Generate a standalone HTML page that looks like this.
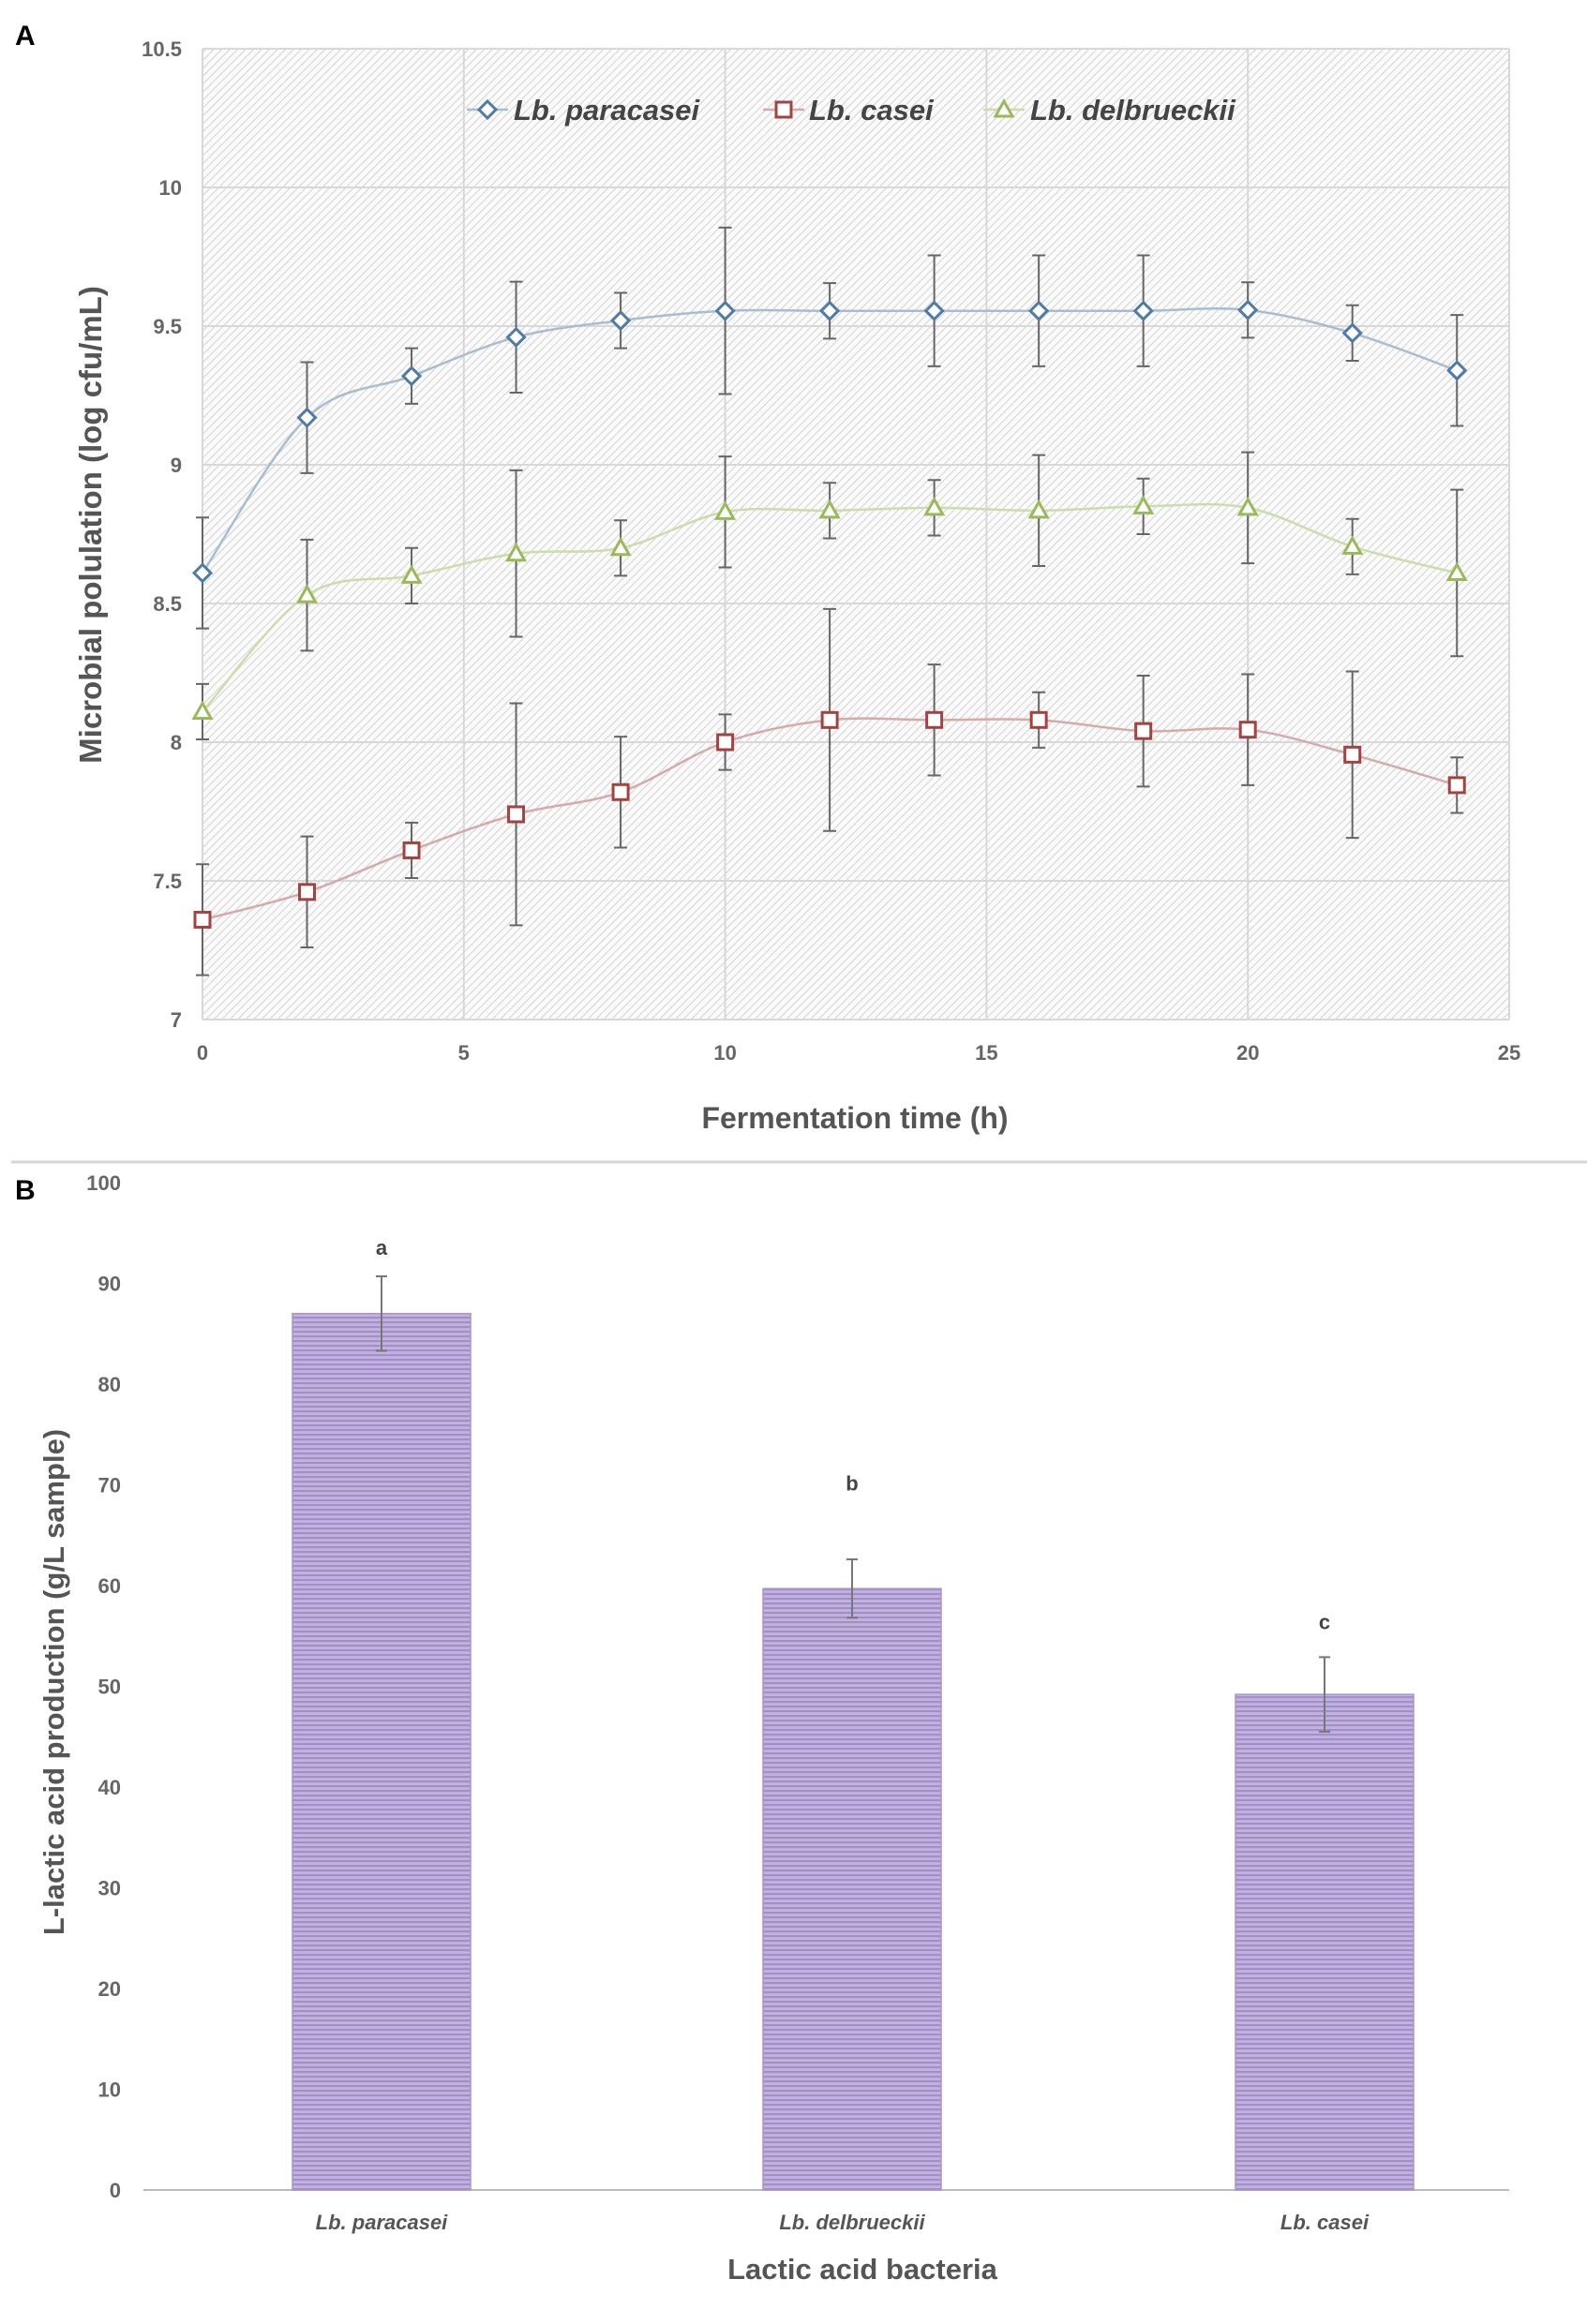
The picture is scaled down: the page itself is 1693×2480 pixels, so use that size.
<!DOCTYPE html>
<html><head><meta charset="utf-8"><style>
html,body{margin:0;padding:0;background:#fff;}
svg{display:block;}
</style></head><body>
<svg id="s" width="1693" height="2480" xmlns="http://www.w3.org/2000/svg" font-family="Liberation Sans, sans-serif">
<defs>
<pattern id="hatch" width="6" height="6" patternUnits="userSpaceOnUse" patternTransform="rotate(45)">
<rect width="6" height="6" fill="#fbfbfb"/>
<line x1="0" y1="0" x2="0" y2="6" stroke="#d2d2d2" stroke-width="2"/>
</pattern>
<pattern id="stripe" width="6" height="5" patternUnits="userSpaceOnUse">
<rect width="6" height="5" fill="#c2b3de"/>
<rect y="0" width="6" height="2.2" fill="#a28fc9"/>
</pattern>
</defs>
<text x="16" y="48" font-size="30" font-weight="bold" fill="#000">A</text>
<rect x="216" y="52" width="1394" height="1036" fill="url(#hatch)"/>
<g id="gridA"></g>
<g id="seriesA"></g>
<g font-size="22" font-weight="bold" fill="#666" id="ticksA"></g>
<text transform="translate(108,560) rotate(-90)" text-anchor="middle" font-size="33" font-weight="bold" fill="#555">Microbial polulation  (log cfu/mL)</text>
<text x="912" y="1204" text-anchor="middle" font-size="32" font-weight="bold" fill="#555">Fermentation time (h)</text>
<g id="legend" font-size="31" font-weight="bold" font-style="italic" fill="#444"></g>
<line x1="12" y1="1240" x2="1693" y2="1240" stroke="#d6d6d6" stroke-width="3"/>
<text x="16" y="1280" font-size="30" font-weight="bold" fill="#000">B</text>
<g id="barB"></g>
<text transform="translate(68,1795) rotate(-90)" text-anchor="middle" font-size="31" font-weight="bold" fill="#555">L-lactic acid production  (g/L sample)</text>
<text x="920" y="2432" text-anchor="middle" font-size="31" font-weight="bold" fill="#555">Lactic acid bacteria</text>
</svg>
<script>
var NS="http://www.w3.org/2000/svg";
function el(p,t,a,txt){var e=document.createElementNS(NS,t);for(var k in a)e.setAttribute(k,a[k]);if(txt!=null)e.textContent=txt;document.getElementById(p).appendChild(e);return e;}
var L=216,R=1610,T=52,B=1088;
function X(h){return L+(R-L)*h/25;}
function Y(v){return B-(v-7)*(B-T)/3.5;}
for(var v=7;v<=10.5001;v+=0.5){el("gridA","line",{x1:L,x2:R,y1:Y(v),y2:Y(v),stroke:"#d8d8d8","stroke-width":2});
 el("ticksA","text",{x:194,y:Y(v)+8,"text-anchor":"end"},(Math.round(v*10)/10).toString());}
for(var h=0;h<=25;h+=5){el("gridA","line",{x1:X(h),x2:X(h),y1:T,y2:B,stroke:"#d8d8d8","stroke-width":2});
 el("ticksA","text",{x:X(h),y:1131,"text-anchor":"middle"},h.toString());}
var hs=[0,2,4,6,8,10,12,14,16,18,20,22,24];
var S=[
{c:"#4f7ba6",lc:"#a9bcd0",m:"d",v:[8.61,9.17,9.32,9.46,9.52,9.555,9.555,9.555,9.555,9.555,9.558,9.475,9.34],e:[0.2,0.2,0.1,0.2,0.1,0.3,0.1,0.2,0.2,0.2,0.1,0.1,0.2]},
{c:"#9aba5a",lc:"#ccdcaa",m:"t",v:[8.11,8.53,8.60,8.68,8.70,8.83,8.835,8.845,8.835,8.85,8.845,8.705,8.61],e:[0.1,0.2,0.1,0.3,0.1,0.2,0.1,0.1,0.2,0.1,0.2,0.1,0.3]},
{c:"#a2433f",lc:"#d6aaa8",m:"s",v:[7.36,7.46,7.61,7.74,7.82,8.0,8.08,8.08,8.08,8.04,8.045,7.955,7.845],e:[0.2,0.2,0.1,0.4,0.2,0.1,0.4,0.2,0.1,0.2,0.2,0.3,0.1]}];
function marker(g,m,x,y,c){
 if(m=="d")el(g,"path",{d:"M"+x+","+(y-9)+"L"+(x+9)+","+y+"L"+x+","+(y+9)+"L"+(x-9)+","+y+"Z",fill:"#fff",stroke:c,"stroke-width":3});
 else if(m=="s")el(g,"rect",{x:x-8,y:y-8,width:16,height:16,fill:"#fff",stroke:c,"stroke-width":3});
 else el(g,"path",{d:"M"+x+","+(y-9)+"L"+(x+9)+","+(y+7)+"L"+(x-9)+","+(y+7)+"Z",fill:"#fff",stroke:c,"stroke-width":3});
}
S.forEach(function(s){
 var P=hs.map(function(h,i){return[X(h),Y(s.v[i])];});
 var d="M"+P[0][0]+","+P[0][1];
 for(var i=0;i<P.length-1;i++){var p0=P[Math.max(i-1,0)],p1=P[i],p2=P[i+1],p3=P[Math.min(i+2,P.length-1)];
  var t=6;d+="C"+(p1[0]+(p2[0]-p0[0])/t)+","+(p1[1]+(p2[1]-p0[1])/t)+" "+(p2[0]-(p3[0]-p1[0])/t)+","+(p2[1]-(p3[1]-p1[1])/t)+" "+p2[0]+","+p2[1];}
 el("seriesA","path",{d:d,fill:"none",stroke:s.lc,"stroke-width":2.5});
 P.forEach(function(p,i){var e=s.e[i]*(B-T)/3.5;
  el("seriesA","path",{d:"M"+p[0]+","+(p[1]-e)+"V"+(p[1]+e)+"M"+(p[0]-7)+","+(p[1]-e)+"h14M"+(p[0]-7)+","+(p[1]+e)+"h14",stroke:"#666","stroke-width":2,fill:"none"});});
 P.forEach(function(p){marker("seriesA",s.m,p[0],p[1],s.c);});
});
var lg=[[520,548,"Lb. paracasei",S[0]],[836,863,"Lb. casei",S[2]],[1071,1099,"Lb. delbrueckii",S[1]]];
lg.forEach(function(q){el("legend","line",{x1:q[0]-22,x2:q[0]+22,y1:117,y2:117,stroke:q[3].lc,"stroke-width":2.5});
 marker("legend",q[3].m,q[0],117,q[3].c);el("legend","text",{x:q[1],y:128},q[2]);});
var B0=2337,u=10.75;
function YB(v){return B0-v*u;}
for(var v=0;v<=100;v+=10){el("barB","text",{x:129,y:YB(v)+8,"text-anchor":"end","font-size":22,"font-weight":"bold",fill:"#666"},v.toString());}
el("barB","line",{x1:153,x2:1610,y1:B0,y2:B0,stroke:"#bbb","stroke-width":2});
var bars=[[312,87.0,3.7,"a",93.6,"Lb. paracasei"],[814,59.7,2.9,"b",70.2,"Lb. delbrueckii"],[1318,49.2,3.7,"c",56.4,"Lb. casei"]];
bars.forEach(function(b){var w=190,cx=b[0]+w/2;
 el("barB","rect",{x:b[0],y:YB(b[1]),width:w,height:b[1]*u,fill:"url(#stripe)",stroke:"#a895cc","stroke-width":1.5});
 el("barB","path",{d:"M"+cx+","+YB(b[1]+b[2])+"V"+YB(b[1]-b[2])+"M"+(cx-6)+","+YB(b[1]+b[2])+"h12M"+(cx-6)+","+YB(b[1]-b[2])+"h12",stroke:"#777","stroke-width":2,fill:"none"});
 el("barB","text",{x:cx,y:YB(b[4])+8,"text-anchor":"middle","font-size":22,"font-weight":"bold",fill:"#444"},b[3]);
 el("barB","text",{x:cx,y:2379,"text-anchor":"middle","font-size":22,"font-weight":"bold","font-style":"italic",fill:"#555"},b[5]);
});
</script>
</body></html>
